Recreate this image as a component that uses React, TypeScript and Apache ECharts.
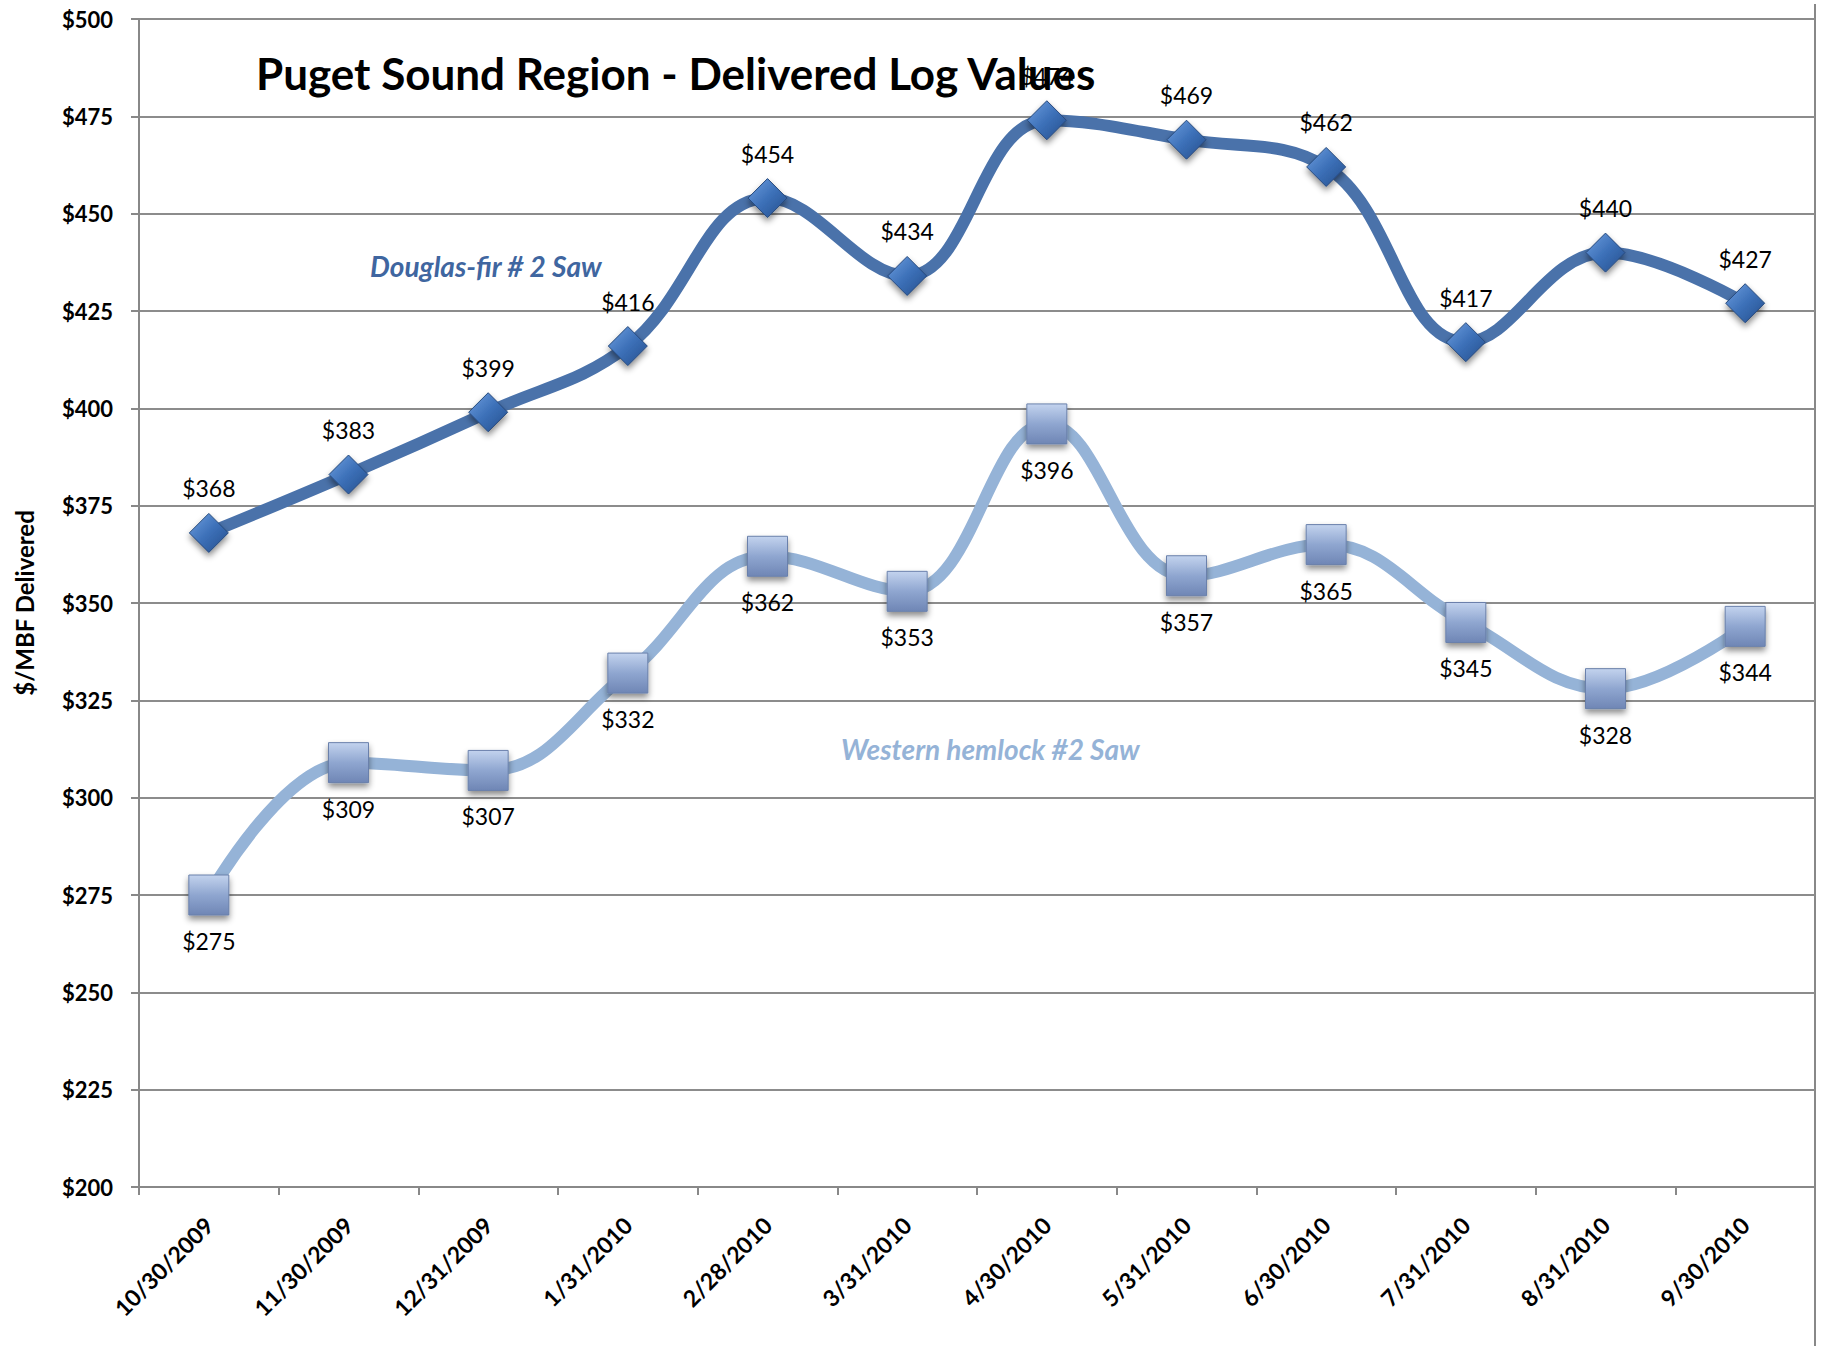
import React, { useEffect, useRef } from "react";
import * as echarts from "echarts";

const categories = [
  "10/30/2009", "11/30/2009", "12/31/2009", "1/31/2010", "2/28/2010", "3/31/2010",
  "4/30/2010", "5/31/2010", "6/30/2010", "7/31/2010", "8/31/2010", "9/30/2010",
];
const douglasFir = [368, 383, 399, 416, 454, 434, 474, 469, 462, 417, 440, 427];
const westernHemlock = [275, 309, 307, 332, 362, 353, 396, 357, 365, 345, 328, 344];
const yMin = 200;
const yMax = 500;
const yStep = 25;

const titleText = "Puget Sound Region - Delivered Log Values";
const yAxisName = "$/MBF Delivered";
const dfName = "Douglas-fir # 2 Saw";
const whName = "Western hemlock #2 Saw";

export default function App() {
  const ref = useRef<HTMLDivElement>(null);
  useEffect(() => {
    if (!ref.current) return;
    const chart = echarts.init(ref.current, null, { renderer: "svg" });
    const font = "Lato, 'Noto Sans', sans-serif";
    const diamondFill = new echarts.graphic.LinearGradient(0, 0, 1, 1, [
      { offset: 0, color: "#6f9fe0" },
      { offset: 0.5, color: "#3c70b8" },
      { offset: 1, color: "#254f8c" },
    ]);
    const squareFill = new echarts.graphic.LinearGradient(0, 0, 0, 1, [
      { offset: 0, color: "#c3d3ee" },
      { offset: 0.5, color: "#8fa6d0" },
      { offset: 1, color: "#6f86b5" },
    ]);
    chart.setOption({
      animation: false,
      backgroundColor: "#ffffff",
      textStyle: { fontFamily: font },
      grid: { left: 139, right: 9, top: 19, bottom: 159, containLabel: false },
      title: {
        text: titleText,
        left: 251,
        top: 46,
        textStyle: { fontFamily: font, fontWeight: "bold", fontSize: 44, color: "#000" },
        z: 20,
      },
      graphic: [
        {
          type: "text",
          left: 370,
          top: 252,
          z: 10,
          style: {
            text: dfName,
            font: `italic bold 28px ${font}`,
            fill: "#3f66a0",
          },
        },
        {
          type: "text",
          left: 841,
          top: 735,
          z: 10,
          style: {
            text: whName,
            font: `italic bold 28px ${font}`,
            fill: "#95b3d7",
          },
        },
        {
          type: "line",
          shape: { x1: 1815, y1: 4, x2: 1815, y2: 1346 },
          style: { stroke: "#888888", lineWidth: 2 },
        },
      ],
      xAxis: {
        type: "category",
        data: categories,
        boundaryGap: true,
        axisLine: { lineStyle: { color: "#888888", width: 2 } },
        axisTick: { show: true, length: 8, lineStyle: { color: "#888888", width: 2 } },
        axisLabel: {
          rotate: 45,
          margin: 34,
          fontFamily: font,
          fontWeight: "bold",
          fontSize: 23,
          color: "#000",
        },
      },
      yAxis: {
        type: "value",
        min: yMin,
        max: yMax,
        interval: yStep,
        name: yAxisName,
        nameLocation: "middle",
        nameGap: 103,
        nameRotate: 90,
        nameTextStyle: { fontFamily: font, fontWeight: "bold", fontSize: 24, color: "#000" },
        axisLine: { show: true, lineStyle: { color: "#888888", width: 2 } },
        axisTick: { show: true, length: 8, lineStyle: { color: "#888888", width: 2 } },
        splitLine: { lineStyle: { color: "#8c8c8c", width: 2 } },
        axisLabel: {
          margin: 26,
          fontFamily: font,
          fontWeight: "bold",
          fontSize: 22,
          color: "#000",
          formatter: (v: number) => "$" + v,
        },
      },
      series: [
        {
          name: whName,
          type: "line",
          data: westernHemlock,
          smooth: 0.4,
          symbol: "rect",
          symbolSize: [40, 40],
          lineStyle: { color: "#95b3d7", width: 12 },
          itemStyle: {
            color: squareFill,
            borderColor: "#6a80ab",
            borderWidth: 1,
            shadowBlur: 6,
            shadowColor: "rgba(0,0,0,0.45)",
            shadowOffsetY: 4,
          },
          label: {
            show: true,
            position: "bottom",
            distance: 14,
            fontFamily: font,
            fontSize: 23,
            color: "#000",
            formatter: (p: any) => "$" + p.value,
          },
          z: 3,
        },
        {
          name: dfName,
          type: "line",
          data: douglasFir,
          smooth: 0.4,
          symbol: "diamond",
          symbolSize: [39, 39],
          lineStyle: { color: "#4a72aa", width: 12 },
          itemStyle: {
            color: diamondFill,
            borderColor: "#26497c",
            borderWidth: 1,
            shadowBlur: 6,
            shadowColor: "rgba(0,0,0,0.45)",
            shadowOffsetY: 4,
          },
          label: {
            show: true,
            position: "top",
            distance: 13,
            fontFamily: font,
            fontSize: 23,
            color: "#000",
            formatter: (p: any) => "$" + p.value,
          },
          z: 4,
        },
      ],
    });
    return () => chart.dispose();
  }, []);
  return (
    <div
      ref={ref}
      style={{ position: "absolute", left: 0, top: 0, width: 1824, height: 1346 }}
    />
  );
}
